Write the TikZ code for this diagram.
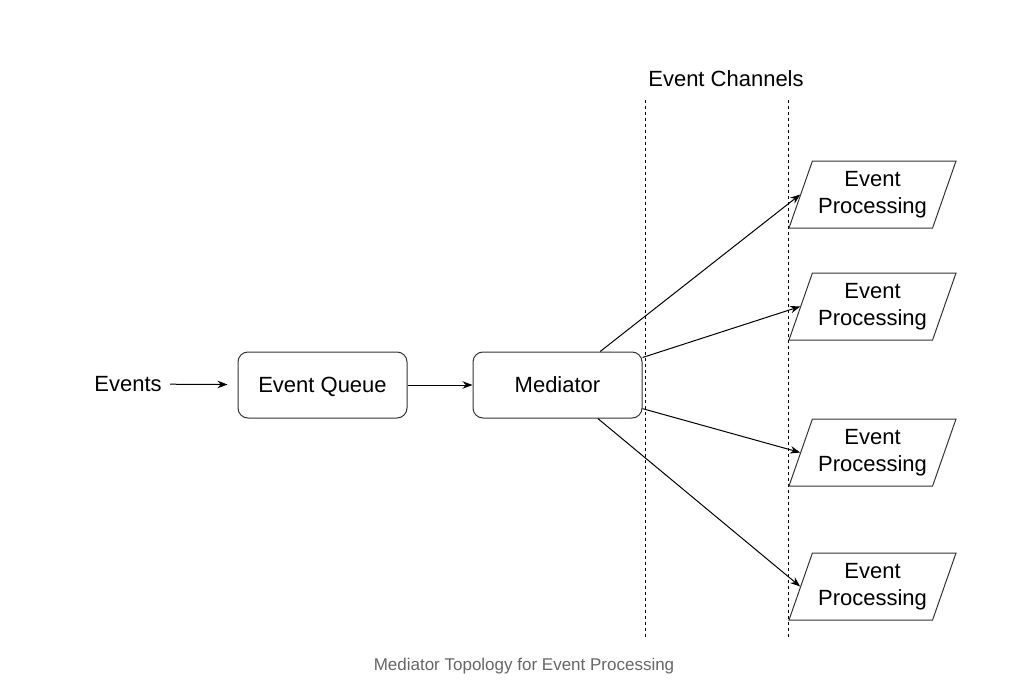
\documentclass[tikz,border=0pt]{standalone}
\usepackage{fontspec}
\setmainfont{Liberation Sans}
\usetikzlibrary{arrows.meta, shapes.geometric}

\begin{document}
\begin{tikzpicture}[x=1pt, y=-1pt,
        font=\fontsize{22}{26.5}\selectfont,
        box/.style={rectangle, rounded corners=10pt, draw=black!80, line width=1pt,
            minimum width=169pt, minimum height=66pt, text height=17pt, text depth=3pt},
        proc/.style={trapezium, trapezium left angle=65, trapezium right angle=115,
            trapezium stretches body, draw=black!80, line width=1pt,
            minimum width=167pt, minimum height=67pt, align=center, inner sep=2pt},
        flow/.style={line width=1pt, -{Stealth[length=10pt, width=7.5pt]}},
        channel/.style={line width=1pt, dash pattern=on 3pt off 3pt}]
        \useasboundingbox (0,0) rectangle (1029,685);

        \node (events) at (128, 384) {Events};
        \node[box] (queue) at (322.5, 385) {Event Queue};
        \node[box] (med) at (557.5, 385) {Mediator};

        \node (chan) at (726, 79) {Event Channels};
        \coordinate (c1top) at (645.5, 100);
        \coordinate (c1bot) at (645.5, 637);
        \coordinate (c2top) at (788.5, 100);
        \coordinate (c2bot) at (788.5, 637);
        \draw[channel] (c1top) -- (c1bot);
        \draw[channel] (c2top) -- (c2bot);

        \node[proc] (p1) at (872.5, 194.5) {Event\\Processing};
        \node[proc] (p2) at (872.5, 306.5) {Event\\Processing};
        \node[proc] (p3) at (872.5, 452.5) {Event\\Processing};
        \node[proc] (p4) at (872.5, 586.5) {Event\\Processing};

        \draw[flow, shorten <=5pt, shorten >=10pt] (events) -- (queue);
        \draw[flow] (queue) -- (med);
        \draw[flow] (med) -- (p1.west);
        \draw[flow] (med) -- (p2.west);
        \draw[flow] (med) -- (p3.west);
        \draw[flow] (med) -- (p4.west);

        \node[text=black!60, font=\fontsize{17}{20}\selectfont] (caption) at (524, 666)
            {Mediator Topology for Event Processing};
    \end{tikzpicture}
\end{document}
